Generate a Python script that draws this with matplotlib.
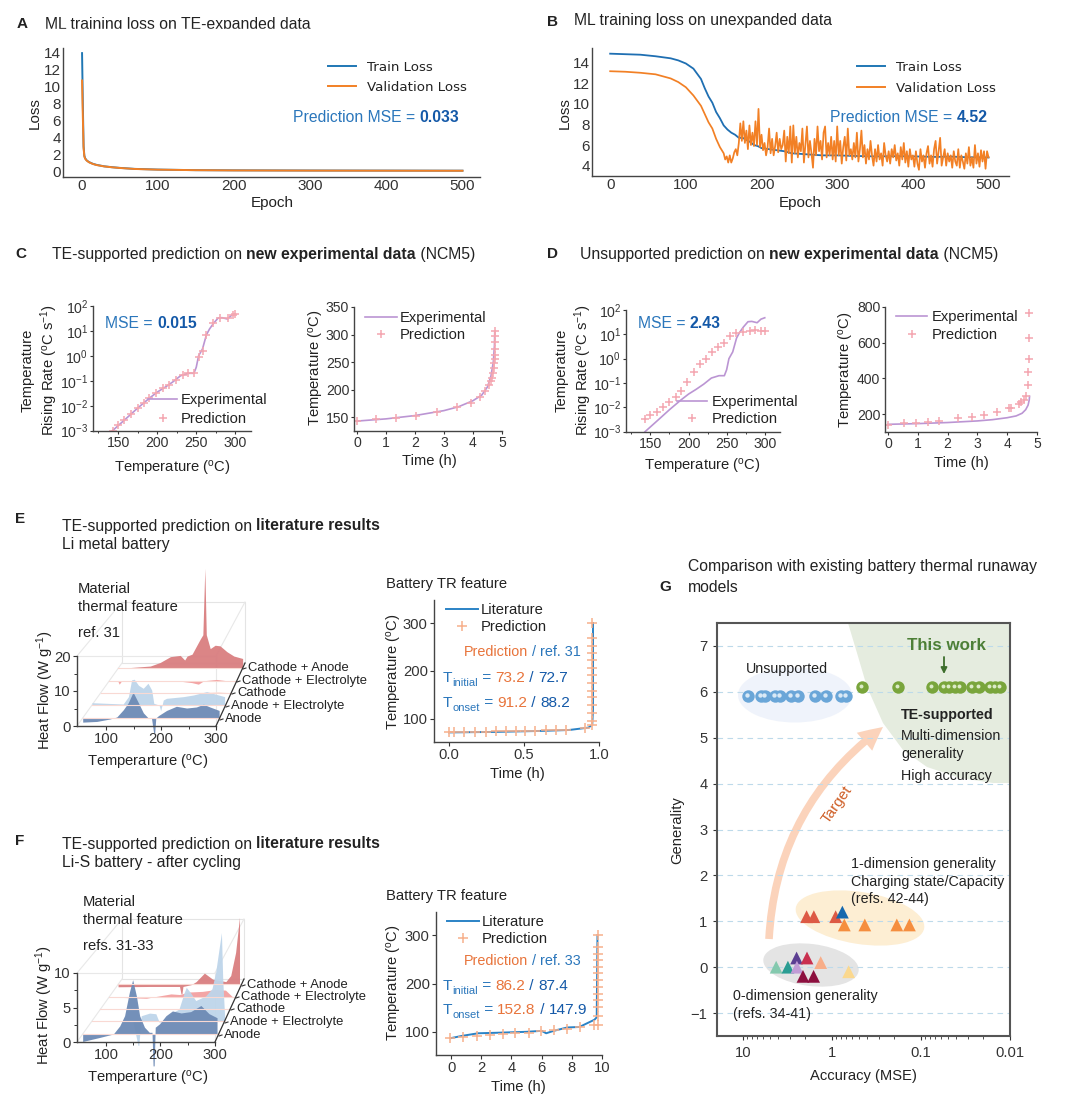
import numpy as np
import matplotlib
matplotlib.use('Agg')
import matplotlib.pyplot as plt
from matplotlib.lines import Line2D
from matplotlib.patches import Ellipse, Polygon, Rectangle, FancyArrowPatch
from matplotlib.transforms import Affine2D, offset_copy

plt.rcParams.update({
    'font.family': ['Liberation Sans', 'DejaVu Sans'],
    'mathtext.fontset': 'custom', 'mathtext.rm': 'Liberation Sans',
    'mathtext.default': 'regular',
    'axes.linewidth': 1.0, 'axes.edgecolor': '#444444',
    'text.color': '#222222', 'xtick.color': '#333333', 'ytick.color': '#333333',
    'axes.labelcolor': '#222222',
})

# ---------- data ----------
a_train_epoch = [1, 2, 3, 4, 5, 7, 10, 15, 20, 30, 40, 50, 70, 100, 150, 200, 300, 400, 500]
a_train_loss = [13.9, 8, 3, 1.9, 1.6, 1.35, 1.15, .95, .82, .65, .55, .47, .35, .27, .2, .18, .16, .15, .14]
a_val_loss = [10.7, 6.5, 2.8, 1.8, 1.55, 1.33, 1.13, .93, .8, .64, .54, .46, .34, .26, .2, .17, .15, .14, .13]

b_train_epoch = [0, 20, 40, 60, 80, 90, 100, 110, 120, 125, 130, 135, 140, 145, 150, 155, 160, 165, 170, 175, 180, 185, 190, 195, 200, 210, 220, 230, 240, 250, 260, 270, 280, 300, 320, 350, 380, 400, 430, 450, 470, 500]
b_train_loss = [14.85, 14.8, 14.75, 14.6, 14.4, 14.2, 13.9, 13.4, 12.4, 11.5, 10.7, 10.1, 9.2, 8.6, 7.9, 7.5, 7.2, 7.0, 6.7, 6.7, 6.5, 6.3, 6.0, 5.9, 5.7, 5.6, 5.5, 5.4, 5.2, 5.15, 5.1, 5.05, 5.0, 5.0, 4.95, 4.9, 4.92, 4.9, 4.85, 4.88, 4.82, 4.8]
b_val_smooth_epoch = [0, 20, 40, 60, 80, 90, 100, 110, 120, 125, 130, 135, 140, 145]
b_val_smooth_loss = [13.15, 13.1, 13.0, 12.85, 12.45, 12.1, 11.6, 10.8, 9.8, 9.0, 8.2, 7.6, 6.6, 5.8]
b_val_noisy_loss = [
    5.2, 4.6, 4.9, 4.3, 5.0, 4.3, 4.7, 5.3, 5.6, 5.0, 6.2, 8.1, 6.4, 8.3, 6.2, 7.4, 5.6, 7.9, 6.0, 7.2, 5.9, 8.3, 6.0, 9.5, 5.8,
    7.0, 5.5, 6.2, 5.0, 5.8, 7.6, 5.2, 6.6, 5.0, 5.9, 7.2, 5.3, 6.6, 5.6, 6.0, 7.4, 4.4, 6.8, 5.2, 7.8, 4.3, 7.9, 5.2, 6.8, 4.8,
    6.2, 5.4, 7.6, 4.3, 6.0, 7.8, 4.8, 6.4, 5.2, 3.8, 6.6, 5.0, 7.8, 5.4, 6.4, 4.6, 7.2, 7.8, 4.8, 6.2, 5.0, 6.8, 4.6, 6.4, 4.4,
    7.8, 5.0, 6.4, 4.2, 5.8, 6.8, 4.5, 7.6, 5.0, 5.6, 4.6, 6.2, 4.8, 7.2, 4.4, 5.6, 7.4, 4.8, 6.0, 4.2, 5.6, 4.6, 6.4, 5.0, 4.0,
    5.6, 4.4, 6.0, 4.6, 5.2, 4.0, 6.2, 5.0, 4.4, 5.4, 4.2, 5.6, 4.8, 6.0, 4.5, 5.2, 4.0, 5.8, 4.6, 6.2, 4.3, 5.4, 3.9, 5.6, 4.6,
    5.0, 3.9, 5.4, 4.2, 3.6, 5.6, 4.4, 5.0, 3.8, 5.2, 5.9, 4.2, 5.0, 3.9, 5.6, 6.4, 4.2, 5.4, 6.7, 4.0, 4.8, 5.6, 4.0, 5.2, 4.4,
    5.0, 3.8, 5.4, 4.4, 4.0, 5.6, 3.8, 5.0, 4.4, 3.7, 5.2, 4.2, 5.8, 4.0, 4.8, 3.8, 6.0, 4.2, 5.2, 3.9, 5.5, 4.4, 5.4, 3.7, 5.4, 4.8]

rate_exp_T = [143, 160, 175, 190, 200, 210, 220, 230, 240, 247, 250, 253, 258, 263, 267, 272, 278, 283, 290, 295, 300]
rate_exp = [1e-3, 3e-3, 8e-3, 2e-2, 3.5e-2, 5.5e-2, 9e-2, .16, .2, .2, .35, 1, 1.9, 7, 12, 20, 33, 34, 30, 42, 48]
c_pred_T = [143, 150, 158, 166, 175, 183, 190, 198, 207, 215, 224, 233, 240, 247, 253, 258, 263, 272, 280, 290, 297, 300]
c_pred = [1e-3, 1.7e-3, 2.8e-3, 4.8e-3, 8e-3, 1.3e-2, 2e-2, 3.1e-2, 5e-2, 7e-2, .11, .17, .2, .2, .9, 1.6, 7, 20, 33, 33, 42, 48]
d_pred_T = [143, 150, 159, 166, 175, 183, 190, 198, 207, 215, 223, 231, 239, 247, 255, 262, 271, 280, 287, 295, 300]
d_pred = [3.2e-3, 4.8e-3, 6.6e-3, .0107, .017, .0275, .047, .112, .295, .62, 1.0, 1.95, 3.1, 4.6, 8.5, 11.7, 12, 14, 15.8, 14, 13.8]

c2_exp_t = [0, 1, 2, 3, 3.5, 4, 4.3, 4.5, 4.62, 4.7, 4.74, 4.75]
c2_exp_T = [143, 147, 153, 162, 169, 180, 190, 205, 225, 250, 280, 306]
c2_pred_t = [0, .67, 1.36, 2.05, 2.77, 3.45, 3.92, 4.23, 4.43, 4.55, 4.61, 4.66, 4.69, 4.71, 4.73, 4.75, 4.75, 4.75, 4.75, 4.75, 4.75]
c2_pred_T = [143, 146, 149, 153, 160, 168, 176, 187, 198, 209, 215, 222, 230, 240, 249, 255, 263, 273, 286, 297, 306]
d2_exp_t = [0, 1, 2, 3, 3.5, 4, 4.3, 4.5, 4.62, 4.7, 4.74, 4.75]
d2_exp_T = [143, 147, 153, 162, 169, 180, 190, 205, 225, 250, 280, 300]
d2_pred_t = [0, .53, .95, 1.35, 1.72, 2.34, 2.83, 3.22, 3.67, 4.07, 4.12, 4.38, 4.46, 4.55, 4.63, 4.7, 4.71, 4.72, 4.72, 4.72]
d2_pred_T = [142, 148, 152, 157, 163, 176, 185, 194, 211, 232, 237, 256, 267, 278, 300, 364, 435, 507, 629, 766]

e2_lit_t = [0, .3, .6, .8, .93, .955, .96, .96]
e2_lit_T = [72, 73, 75, 77, 82, 88, 120, 300]
e2_pred_t = [0, .03, .1, .173, .244, .316, .382, .449, .504, .576, .649, .716, .782, .904, .956,
             .955, .955, .955, .955, .955, .955, .955, .955, .955, .955, .955, .955, .955]
e2_pred_T = [72, 72, 73, 73, 73, 74, 74, 75, 75, 75, 76, 77, 78, 82, 88,
             96, 112, 129, 145, 159, 175, 192, 206, 222, 237, 253, 269, 300]
f2_lit_t = [0, .8, 1.8, 3, 5, 6, 6.3, 6.8, 7.7, 8.5, 9.5, 9.65, 9.7]
f2_lit_T = [87, 92, 97, 98, 100, 102, 97, 102, 109, 110, 125, 130, 300]
f2_pred_t = [-.1, .8, 1.74, 2.56, 3.42, 4.26, 5.14, 5.98, 6.8, 7.68, 8.56, 9.5, 9.72, 9.72, 9.72, 9.72, 9.72, 9.72, 9.72, 9.72, 9.72, 9.72, 9.72, 9.72, 9.72]
f2_pred_T = [88, 90, 92, 93, 95, 97, 98, 101, 103, 106, 109, 115, 115, 133, 151, 165, 178, 192, 208, 221, 235, 248, 262, 276, 300]

layer_names = ['Anode', 'Anode + Electrolyte', 'Cathode', 'Cathode + Electrolyte', 'Cathode + Anode']
layer_depth = [.127, .333, .524, .714, .92]
layer_colors = ['#6d8ab5', '#bed5ea', '#fde0da', '#f3a0a0', '#d97e80']

e_T = [
    [47, 73, 97, 110, 122, 131, 140, 150, 159, 168, 174, 178, 180, 182, 187, 202, 220, 239, 257, 270, 282, 299],
    [47, 106, 116, 122, 127, 135, 144, 153, 160, 164, 174, 177, 182, 188, 220, 239, 264, 298],
    [60, 120, 200, 250, 275, 295],
    [49, 64, 67, 72, 190, 211, 224, 235, 260, 280, 295],
    [58, 112, 132, 153, 173, 182, 187, 197, 214, 219, 223, 226, 234, 244, 254, 268, 282, 300]]
e_Q = [
    [-1.2, -1.0, -.3, .3, 2.4, 4.4, 7.5, 4.4, 1.5, 0, 0, -4.3, -4.3, 0, .7, 2.2, 3.4, 2.9, 3.2, 4.0, 3.2, 2.2],
    [.7, .3, 2.5, 7.5, 7.7, 5.9, 5, 6.5, 4.5, .5, 0, -1.7, 1.5, 2, 2.5, 3, 4, 2.5],
    [.1, .1, .15, .2, .4, .1],
    [.1, .1, -1, .1, -.1, -.5, -1, .1, .5, .1, 0],
    [0, .65, 1.8, 3.7, 4.1, 2.6, 3.9, 4.5, 9.5, 10.8, 32.4, 10.8, 6.3, 7.4, 7.2, 5.3, 3.9, 3.1]]
f_T = [
    [47, 79, 104, 116, 125, 134, 140, 147, 153, 162, 171, 176, 178, 180, 182, 190, 202, 214, 230, 248, 267, 282, 297],
    [47, 125, 135, 136.5, 141, 157, 169, 175.5, 188, 201, 213, 223, 227, 235, 245, 264, 276, 283, 294, 296.5, 300],
    [60, 120, 200, 250, 295],
    [49, 122, 135, 171, 188, 207, 234, 260, 280, 293],
    [47, 112, 173, 176, 178, 180, 197, 207, 224, 241, 268, 278, 288, 296]]
f_Q = [
    [-1.1, -.5, 0, 1.2, 2.7, 6.2, 8.0, 5.6, 2.7, 1, .25, .25, -4.7, -4.7, 1, 1.5, 2.7, 3.4, 3.1, 3.3, 4.2, 3, 2.4],
    [0, 0, -3.7, -3.7, .8, 1.2, 1.1, -.2, .3, 1.3, 1.8, 4.3, 5.1, 4.3, 3.1, 3.8, 4.9, 7.4, 13.4, 6.3, .8],
    [.05, .05, .05, .1, .05],
    [0, -.2, 0, .5, .4, .8, .9, 1.2, 1.1, .1],
    [-.45, -.4, -.4, -1.6, -1.6, -.4, -.1, .4, 1.8, .8, .4, 1.4, 5.2, 11]]

g_blue_mse = [8.8, 6.2, 5.7, 4.4, 3.8, 2.9, 2.4, 1.55, 1.18, .8, .695]
g_blue_gen = [5.9] * 11
g_green_mse = [.46, .18, .075, .055, .049, .041, .036, .027, .0225, .0166, .0146, .0128]
g_green_gen = [6.1] * 12
g_tri1_mse = [1.93, 1.6, .91, .765, .727, .428, .187, .135]
g_tri1_gen = [1.1, 1.1, 1.1, 1.2, .92, .92, .92, .92]
g_tri1_col = ['#dd5a45', '#dd5a45', '#dd5a45', '#1668ae', '#f58e3f', '#f58e3f', '#f58e3f', '#f58e3f']
g_tri0_mse = [4.24, 3.13, 2.5, 2.48, 1.91, 1.34, .65, 2.12, 1.61]
g_tri0_gen = [0, 0, .2, 0, .2, .1, -.1, -.2, -.2]
g_tri0_col = ['#84c9ae', '#2a9d93', '#5c3f92', '#c19cd6', '#c9304f', '#f8ad88', '#fbd88e', '#8c0f3e', '#8c0f3e']

# ---------- helpers ----------
W, H = 1065, 1111
fig = plt.figure(figsize=(W / 100, H / 100), dpi=100, facecolor='white')
bg = fig.add_axes([0, 0, 1, 1], zorder=-1)
fg = fig.add_axes([0, 0, 1, 1], zorder=20)
for o in (bg, fg):
    o.set_xlim(0, W); o.set_ylim(H, 0); o.axis('off'); o.patch.set_alpha(0)
rend = fig.canvas.get_renderer()
BLUE, DBLUE, ORG = '#2a76bb', '#1459a8', '#e8743b'
LINE, PLUS = '#bb95d3', '#f4a6b0'
LIT, PRED = '#2b83c6', '#f7b08c'
FS = 10.6
TFS = 11.3
TICK = 10.1
MARK = dict(ms=5.2, mew=1.1)
MARK2 = dict(ms=7, mew=1.1)


def add_ax(l, t, r, b, **kw):
    return fig.add_axes([l / W, 1 - b / H, (r - l) / W, (b - t) / H], **kw)


def txt(x, y, s, **kw):
    kw.setdefault('fontsize', FS)
    kw.setdefault('va', 'center')
    return fg.text(x, y, s, **kw)


def rich(x, y, parts, fs=FS):
    for s, col, wt, *sub in parts:
        size, dy = (fs * .72, 5) if sub else (fs, 0)
        t = txt(x, y + dy, s, color=col, fontweight=wt, fontsize=size)
        x += t.get_window_extent(rend).width


def labels(ax, xl, xpos, yl, ypos, fs=FS):
    ax.set_xlabel(xl, fontsize=fs, ha='center', va='center')
    ax.xaxis.set_label_coords(xpos[0] / W, 1 - xpos[1] / H, transform=fig.transFigure)
    ax.set_ylabel(yl, fontsize=fs, ha='center', va='center', rotation=90, linespacing=1.25)
    ax.yaxis.set_label_coords(ypos[0] / W, 1 - ypos[1] / H, transform=fig.transFigure)


def style(ax, tick=TICK, length=2):
    ax.spines['top'].set_visible(False)
    ax.spines['right'].set_visible(False)
    ax.tick_params(labelsize=tick, length=length, width=.8, pad=1.5)
    ax.patch.set_alpha(0)


def legend(ax, handles, names, hl, hr, ty, y1, y2, fs=FS, family=None):
    fpx = fs * 100 / 72
    prop = {'size': fs}
    if family:
        prop['family'] = family
    ax.legend(handles, names, loc='upper left', frameon=False,
              bbox_to_anchor=(hl / W, 1 - (y1 - fpx * .38) / H), bbox_transform=fig.transFigure,
              borderpad=0, borderaxespad=0, handlelength=(hr - hl) / fpx,
              handletextpad=(ty - hr) / fpx, labelspacing=(y2 - y1 - fpx * 1.0) / fpx, prop=prop,
              numpoints=1)


# ---------- panel letters and titles ----------
for s, x, y in [('A', 22, 24), ('B', 552, 22), ('C', 21, 254), ('D', 552, 254),
                ('E', 20, 519), ('F', 20, 841), ('G', 665, 587)]:
    txt(x, y, s, fontweight='bold', fontsize=11, ha='center')
DK = '#222222'
txt(45, 24, 'ML training loss on TE-expanded data', fontsize=TFS)
fg.add_patch(Rectangle((40, 29), 290, 4, color='white', zorder=5))
txt(574, 20, 'ML training loss on unexpanded data', fontsize=TFS)
rich(52, 254, [('TE-supported prediction on ', DK, 'normal'), ('new experimental data', DK, 'bold'),
               (' (NCM5)', DK, 'normal')], TFS)
rich(580, 254, [('Unsupported prediction on ', DK, 'normal'), ('new experimental data', DK, 'bold'),
                (' (NCM5)', DK, 'normal')], TFS)
rich(62, 526, [('TE-supported prediction on ', DK, 'normal'), ('literature results', DK, 'bold')], TFS)
txt(62, 545, 'Li metal battery', fontsize=TFS)
rich(62, 844, [('TE-supported prediction on ', DK, 'normal'), ('literature results', DK, 'bold')], TFS)
txt(62, 863, 'Li-S battery - after cycling', fontsize=TFS)
txt(688, 567, 'Comparison with existing battery thermal runaway', fontsize=TFS)
txt(688, 587, 'models', fontsize=TFS)

# ---------- A ----------
axA = add_ax(63, 48, 480, 177)
axA.plot(a_train_epoch, a_train_loss, color='#1f77b4', lw=1.4)
axA.plot(a_train_epoch, a_val_loss, color='#f28025', lw=1.4)
axA.set_xlim(-24, 523); axA.set_ylim(-.6, 14.5)
axA.set_yticks(range(0, 15, 2)); axA.set_xticks(range(0, 501, 100))
style(axA, tick=11, length=0)
labels(axA, 'Epoch', (272, 203), 'Loss', (35, 113), fs=11)
legend(axA, [Line2D([], [], color='#1f77b4', lw=1.4), Line2D([], [], color='#f28025', lw=1.4)],
       ['Train Loss', 'Validation Loss'], 328, 356, 367, 66, 86, fs=9.6, family='DejaVu Sans')
rich(293, 118, [('Prediction MSE = ', BLUE, 'normal'), ('0.033', DBLUE, 'bold')], 11.3)

# ---------- B ----------
axB = add_ax(592, 48, 1009, 176)
b_val_epoch = list(b_val_smooth_epoch) + list(np.arange(150, 502, 2))
b_val_loss = b_val_smooth_loss + b_val_noisy_loss
axB.plot(b_train_epoch, b_train_loss, color='#1f6fb2', lw=1.3)
axB.plot(b_val_epoch, b_val_loss, color='#f28025', lw=1.25)
axB.set_xlim(-24, 527); axB.set_ylim(3, 15.4)
axB.set_yticks(range(4, 15, 2)); axB.set_xticks(range(0, 501, 100))
style(axB, tick=11, length=0)
labels(axB, 'Epoch', (800, 203), 'Loss', (565, 113), fs=11)
legend(axB, [Line2D([], [], color='#1f77b4', lw=1.4), Line2D([], [], color='#f28025', lw=1.4)],
       ['Train Loss', 'Validation Loss'], 857, 885, 896, 66, 87, fs=9.6, family='DejaVu Sans')
rich(830, 118, [('Prediction MSE = ', BLUE, 'normal'), ('4.52', DBLUE, 'bold')], 11.3)


# ---------- C / D ----------
def rate_panel(rect, pT, pv, xl, yl, leg, mse, msex):
    ax = add_ax(*rect)
    ax.plot(rate_exp_T, rate_exp, color=LINE, lw=1.2)
    ax.plot(pT, pv, '+', color=PLUS, **MARK)
    ax.set_yscale('log'); ax.set_xlim(118, 320); ax.set_ylim(1e-3 * .97, 100)
    ax.set_xticks([150, 200, 250, 300]); ax.set_xticks([125, 175, 225, 275], minor=True)
    ax.set_yticks([10.0 ** k for k in range(-3, 3)])
    ax.yaxis.set_minor_locator(matplotlib.ticker.NullLocator())
    style(ax)
    ax.tick_params(which='minor', length=1.5, width=.7)
    labels(ax, 'Temperature ($^{o}$C)', xl, 'Temperature\nRising Rate ($^{o}$C s$^{-1}$)', yl)
    legend(ax, [Line2D([], [], color=LINE, lw=1.2), Line2D([], [], ls='', marker='+', color=PLUS, **MARK)],
           ['Experimental', 'Prediction'], *leg)
    rich(msex, 323, [('MSE = ', BLUE, 'normal'), (mse, DBLUE, 'bold')], 11.3)
    return ax


rate_panel((93, 306, 251, 431), c_pred_T, c_pred, (172, 468), (40, 370), (148, 177, 181, 399, 418), '0.015', 105)
rate_panel((626, 310, 780, 432), d_pred_T, d_pred, (702, 467), (574, 370), (677, 707, 712, 401, 418), '2.43', 638)


def time_panel(rect, et, eT, pt, pT, xlim, ylim, yt, xl, yl, leg):
    ax = add_ax(*rect)
    ax.plot(et, eT, color=LINE, lw=1.2)
    ax.plot(pt, pT, '+', color=PLUS, **MARK)
    ax.set_xlim(*xlim); ax.set_ylim(*ylim)
    ax.set_yticks(yt); ax.set_xticks(range(0, 6))
    style(ax)
    labels(ax, 'Time (h)', xl, 'Temperature ($^{o}$C)', yl)
    legend(ax, [Line2D([], [], color=LINE, lw=1.2), Line2D([], [], ls='', marker='+', color=PLUS, **MARK)],
           ['Experimental', 'Prediction'], *leg)


time_panel((354, 307, 502, 431), c2_exp_t, c2_exp_T, c2_pred_t, c2_pred_T, (-.1, 5), (125, 350),
           range(150, 351, 50), (429, 461), (316, 368), (365, 397, 400, 317, 334))
time_panel((885, 307, 1037, 432), d2_exp_t, d2_exp_T, d2_pred_t, d2_pred_T, (-.1, 5), (100, 800),
           range(200, 801, 200), (961, 463), (846, 370), (896, 927, 932, 316, 334))


# ---------- E / F pseudo-3D ----------
def depth_trans(ax, f, pxy):
    return (Affine2D().translate(-47, 0).scale(1 - .115 * f, 1 - .13 * f)
            .translate(47 + 45 * f / .55, 63 * f / pxy) + ax.transData)


def stacked(rect, ymax, yt, Ts, Qs, yl_pos, xl_pos, lab_x, lab_y, notes):
    l, t, r, b = rect
    pxy = (b - t) / ymax
    bg.plot([l + 45, r + 29, r + 29, l + 45, l + 45], [b - 63, b - 63, t - 54, t - 54, b - 63], color='#e4e4e4', lw=.8)
    bg.plot([l, l + 45], [t, t - 54], color='#e8e8e8', lw=.8)
    bg.plot([r, r + 29], [t, t - 54], color='#e8e8e8', lw=.8)
    bg.plot([l, l + 45], [b, b - 63], color='#e8e8e8', lw=.8)
    bg.plot([l, r], [t, t], color='#e8e8e8', lw=.8)
    bg.plot([r, r], [t, b], color='#e8e8e8', lw=.8)
    ax = add_ax(l, t, r, b)
    ax.set_xlim(47, 300); ax.set_ylim(0, ymax)
    for f in layer_depth:
        ax.plot([47, 300], [0, 0], color='#f9d9d3', lw=.8, transform=depth_trans(ax, f, pxy), clip_on=False)
    for i in range(4, -1, -1):
        tr = depth_trans(ax, layer_depth[i], pxy)
        ax.fill_between(Ts[i], 0, Qs[i], color=layer_colors[i], lw=0, transform=tr, clip_on=False, alpha=.95)
    ax.set_xticks([100, 200, 300]); ax.set_xticks([150, 250], minor=True)
    ax.set_yticks(yt); ax.set_yticks([(a + c) / 2 for a, c in zip(yt[:-1], yt[1:])], minor=True)
    style(ax, tick=FS, length=3)
    ax.tick_params(which='minor', length=2, width=.7)
    labels(ax, 'Temperarture ($^{o}$C)', xl_pos, 'Heat Flow (W g$^{-1}$)', yl_pos)
    fg.plot([r, r + 29], [b, b - 63], color='#333333', lw=.9)
    for name, x, y in zip(layer_names, lab_x, lab_y):
        fg.plot([x - 5, x - 2], [y + 1, y], color='#333333', lw=.8)
        txt(x, y, name, fontsize=9.4)
    for s, x, y in notes:
        txt(x, y, s)
    return ax


stacked((77, 656, 216, 726), 20, [0, 10, 20], e_T, e_Q, (45, 690), (148, 763),
        [225, 231, 237, 242, 248], [719, 706, 693, 681, 668],
        [('Material', 78, 589), ('thermal feature', 78, 607), ('ref. 31', 78, 633)])
stacked((77, 973, 215, 1042), 10, [0, 5, 10], f_T, f_Q, (44, 1005), (148, 1079),
        [224, 230, 236, 241, 247], [1035, 1022, 1009, 997, 985],
        [('Material', 83, 902), ('thermal feature', 83, 920), ('refs. 31-33', 83, 946)])


def tr_panel(rect, lt, lT, pt, pT, xlim, xt, xtl, ylabel_pos, xlabel_pos, leg, head, ref, ti, to, pos):
    ax = add_ax(*rect)
    ax.plot(lt, lT, color=LIT, lw=1.4)
    ax.plot(pt, pT, '+', color=PRED, **MARK2)
    ax.set_xlim(*xlim); ax.set_ylim(52, 348)
    ax.set_xticks(xt); ax.set_xticklabels(xtl); ax.set_yticks([100, 200, 300])
    style(ax, tick=FS, length=3)
    labels(ax, 'Time (h)', xlabel_pos, 'Temperature ($^{o}$C)', ylabel_pos)
    legend(ax, [Line2D([], [], color=LIT, lw=1.4), Line2D([], [], ls='', marker='+', color=PRED, **MARK2)],
           ['Literature', 'Prediction'], *leg)
    txt(386, head, 'Battery TR feature')
    rich(464, pos[0], [('Prediction', ORG, 'normal'), (' / ref. ' + ref, BLUE, 'normal')], 10.4)
    rich(443, pos[1], [('T', BLUE, 'normal'), ('initial', BLUE, 'normal', 1), (' = ', BLUE, 'normal'),
                       (ti[0], ORG, 'normal'), (' / ', DBLUE, 'normal'), (ti[1], DBLUE, 'normal')], 11.1)
    rich(443, pos[2], [('T', BLUE, 'normal'), ('onset', BLUE, 'normal', 1), (' = ', BLUE, 'normal'),
                       (to[0], ORG, 'normal'), (' / ', DBLUE, 'normal'), (to[1], DBLUE, 'normal')], 11.1)


tr_panel((434, 600, 599, 742), e2_lit_t, e2_lit_T, e2_pred_t, e2_pred_T, (-.1, 1.0), [0, .5, 1], ['0.0', '0.5', '1.0'],
         (395, 672), (517, 774), (446, 478, 481, 609, 626), 584, '31', ('73.2', '72.7'), ('91.2', '88.2'), (652, 678, 703))
tr_panel((436, 912, 602, 1055), f2_lit_t, f2_lit_T, f2_pred_t, f2_pred_T, (-1, 10), [0, 2, 4, 6, 8, 10], ['0', '2', '4', '6', '8', '10'],
         (395, 983), (518, 1087), (447, 479, 482, 921, 938), 896, '33', ('86.2', '87.4'), ('152.8', '147.9'), (961, 986, 1010))

# ---------- G ----------
bg.add_patch(Polygon([(848, 623), (857, 653), (867, 687), (883, 723), (903, 750), (927, 767), (960, 778), (993, 783), (1010, 783), (1010, 623)],
                     closed=True, color='#e5ecdf', lw=0))
bg.add_patch(Ellipse((795, 695), 114, 55, color='#eff3fb', lw=0))
bg.add_patch(Ellipse((860, 918), 130, 52, angle=9, color='#fdeed3', lw=0))
bg.add_patch(Ellipse((811, 965), 96, 42, angle=7, color='#e4e4e4', lw=0))
bg.add_patch(FancyArrowPatch((769, 939), (883, 727), connectionstyle='arc3,rad=-0.235',
                             arrowstyle='simple,head_length=17,head_width=17,tail_width=5.5',
                             mutation_scale=1, color='#fbd3bb', lw=0, shrinkA=0, shrinkB=0))

axG = add_ax(717, 623, 1010, 1036)
axG.patch.set_alpha(0)
axG.set_xscale('log'); axG.set_xlim(19.6, .01); axG.set_ylim(-1.5, 7.5)
axG.set_yticks(range(-1, 8)); axG.set_yticklabels(['\u22121', '0', '1', '2', '3', '4', '5', '6', '7'])
axG.grid(axis='y', color='#bddaea', ls=(0, (5, 4)), lw=.8)
axG.set_axisbelow(True)
for sp in axG.spines.values():
    sp.set_linewidth(1.5); sp.set_color('#555555')
axG.tick_params(axis='both', labelsize=FS, length=3, width=.8, pad=4)
axG.tick_params(axis='x', which='minor', length=2, width=.6)
axG.xaxis.set_major_locator(matplotlib.ticker.FixedLocator([10, 1, .1, .01]))
axG.set_xticklabels(['10', '1', '0.1', '0.01'])
labels(axG, 'Accuracy (MSE)', (863, 1076), 'Generality', (677, 830))

hl = offset_copy(axG.transData, fig=fig, x=-1, y=1, units='dots')
axG.scatter(g_blue_mse, g_blue_gen, s=80, color='#6aa6d8', lw=0, zorder=3)
axG.scatter(g_blue_mse, g_blue_gen, s=10, color='#d9e9f6', lw=0, zorder=4, transform=hl)
axG.scatter(g_green_mse, g_green_gen, s=80, color='#79a53c', lw=0, zorder=3)
axG.scatter(g_green_mse, g_green_gen, s=8, color='#dcebc8', lw=0, zorder=4, transform=hl)
axG.scatter(g_tri1_mse, g_tri1_gen, s=85, marker='^', c=g_tri1_col, lw=0, zorder=3)
axG.scatter(g_tri0_mse, g_tri0_gen, s=85, marker='^', c=g_tri0_col, lw=0, zorder=3)

GREEN = '#4d7f37'
txt(946, 646, 'This work', color=GREEN, fontweight='bold', ha='center', fontsize=12.2)
fg.annotate('', xy=(944, 674), xytext=(944, 657), arrowprops=dict(arrowstyle='-|>', color='#3d6e2c', lw=1.3, mutation_scale=9, shrinkA=0, shrinkB=0))
txt(746, 669, 'Unsupported', fontsize=10.3)
txt(901, 715, 'TE-supported', fontweight='bold', fontsize=10.3)
txt(901, 736, 'Multi-dimension', fontsize=10.3)
txt(901, 754, 'generality', fontsize=10.3)
txt(901, 776, 'High accuracy', fontsize=10.3)
txt(851, 864, '1-dimension generality', fontsize=10.3)
txt(851, 882, 'Charging state/Capacity', fontsize=10.3)
txt(851, 899, '(refs. 42-44)', fontsize=10.3)
txt(733, 996, '0-dimension generality', fontsize=10.3)
txt(733, 1014, '(refs. 34-41)', fontsize=10.3)
txt(837, 805, 'Target', color='#cf5f27', rotation=55, ha='center', fontsize=11)

fig.savefig('out.png', dpi=100)
